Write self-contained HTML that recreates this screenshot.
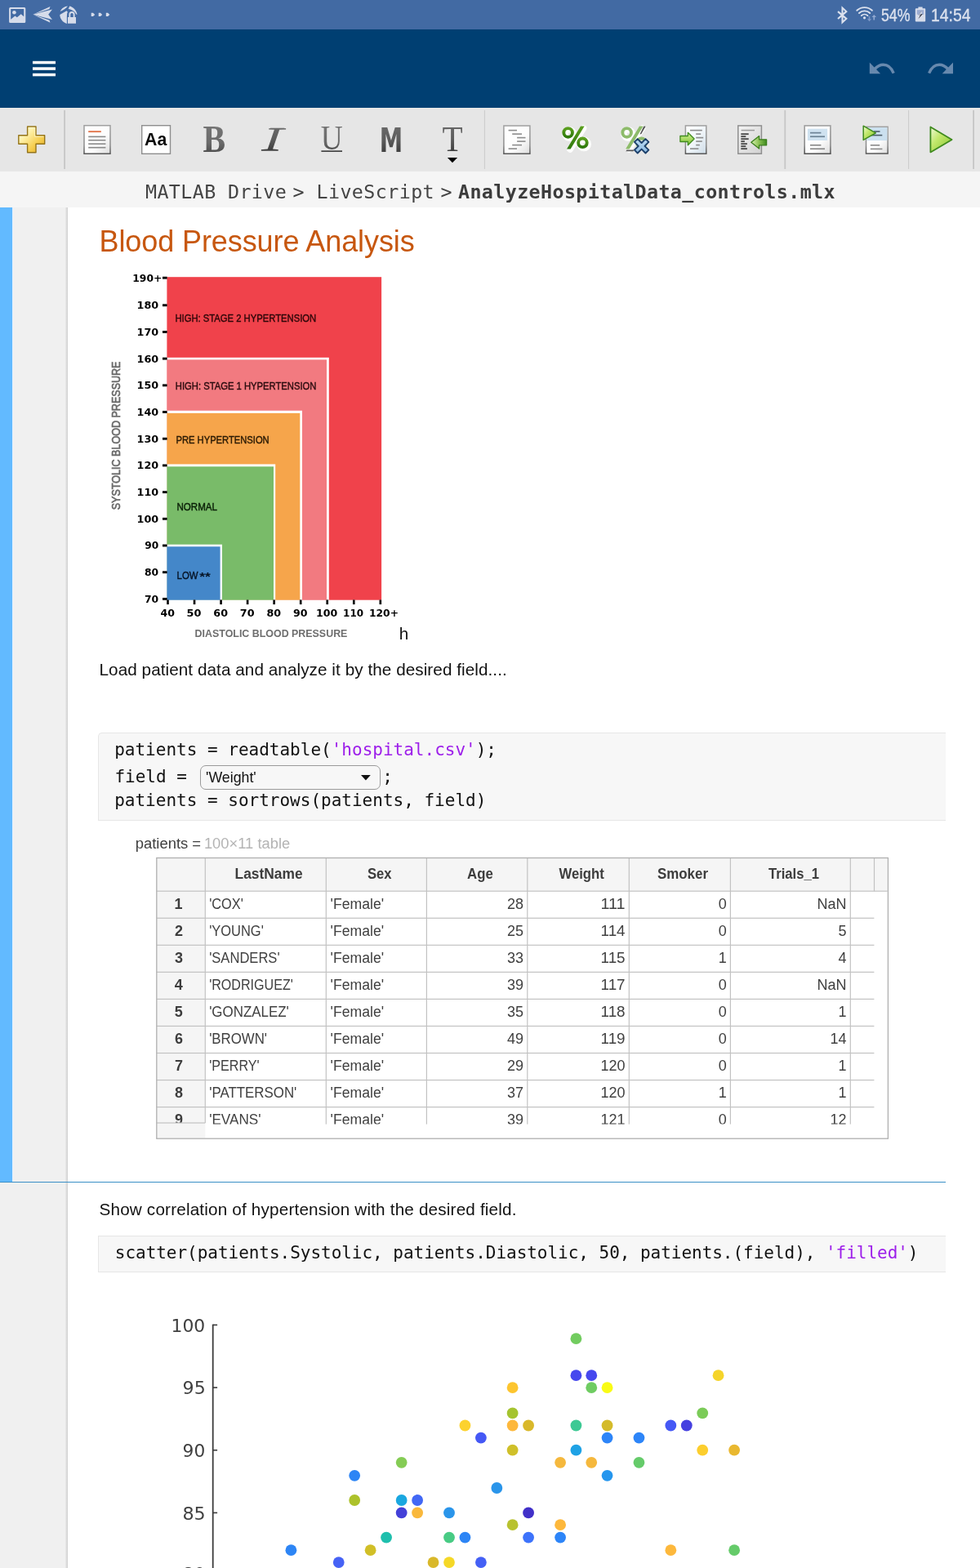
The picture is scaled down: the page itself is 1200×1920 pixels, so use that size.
<!DOCTYPE html>
<html lang="en">
<head>
<meta charset="utf-8">
<title>AnalyzeHospitalData_controls.mlx</title>
<style>
*{box-sizing:border-box;margin:0;padding:0}
html,body{width:1200px;height:1920px;overflow:hidden;background:#fff}
body{font-family:"Liberation Sans",sans-serif;color:#000}
#root{position:relative;width:1200px;height:1920px;overflow:hidden;background:#fff}
.abs{position:absolute}
.t{position:absolute;white-space:pre;line-height:1}
.mono{font-family:"DejaVu Sans Mono","Liberation Mono",monospace}
svg{position:absolute;overflow:visible}
/* bars */
#status{position:absolute;left:0;top:0;width:1200px;height:36px;background:#426aa3}
#appbar{position:absolute;left:0;top:36px;width:1200px;height:96px;background:#003f72}
#toolbar{position:absolute;left:0;top:132px;width:1200px;height:78px;background:#e6e6e6}
#crumb{position:absolute;left:0;top:210px;width:1200px;height:44px;background:#f5f5f5}
#gutter{position:absolute;left:0;top:254px;width:83px;height:1666px;background:linear-gradient(to right,#f0f0f0 0,#f0f0f0 79.500px,#d2d2d2 82.600px,#e4e4e4 83px)}
#strip{position:absolute;left:0;top:254px;width:16px;height:1193px;background:#62baff;border-right:1px solid #e2f1ff}
#secline{position:absolute;left:0;top:1446.5px;width:1158px;height:1.6px;background:#3a8fc6}
#title{left:121.500px;top:277.500px;font-size:36px;letter-spacing:-.09px;color:#c7570f}
.para{font-size:20.700px;color:#111}
.codeblk{position:absolute;left:120px;width:1038px;background:#f7f7f7;border:1px solid #e6e6e6;border-right:none;border-radius:5px 0 0 0}
.code{font-family:"DejaVu Sans Mono","Liberation Mono",monospace;font-size:21px;color:#111;position:absolute;white-space:pre;line-height:1}
.str{color:#9d1fea}

</style>
</head>
<body>
<div id="root">
<div id="status">
<svg width="1200" height="36" viewBox="0 0 1200 36" style="left:0;top:0">
 <g fill="#d6dcea" stroke="none">
  <!-- picture icon -->
  <path fill-rule="evenodd" d="M12.6 9h17.2a1.5 1.5 0 0 1 1.5 1.5v16a1.5 1.5 0 0 1-1.5 1.5H12.6a1.5 1.5 0 0 1-1.5-1.5v-16A1.5 1.5 0 0 1 12.6 9zM13.2 11.1v12.6l5.2-4.3 2.5 1.9 4.8-4.1 3.5 3.1v-9.2z"/>
  <circle cx="17.4" cy="15.3" r="2.3"/>
  <!-- paper plane -->
  <path d="M40.4 17.8L61.5 7.9 60.4 10.9z"/>
  <path d="M40.4 17.8L64 11.6 59.2 17.8 64 24 z"/>
  <path d="M40.4 17.8L61.5 27.7 60.4 24.7z"/>
  <!-- globe + lock -->
  <path d="M83 7.400c-4 .2-7.600 2.700-9.300 6.500c3.900-1.700 7-3.700 9.300-6.500z"/>
  <path d="M85.2 7.400c-.5 1.600-1 2.700-1.700 3.600c2.400.3 5.200 1.300 7.200 3.100c1.200 1.100 2 2.300 2.600 3.500l1.200.1c-.8-5-4.400-9-9.300-10.300z"/>
  <path d="M73.300 18.100c.1 5.200 3.600 9.500 8.600 10.800V19.800c0-2 .3-3.800.9-5.200l-1.200-1.300z"/>
  <path fill-rule="evenodd" d="M83 21h1.400v-3.300a3.600 3.600 0 0 1 7.200 0V21H93v7.800H83zM86.300 21h3.400v-3.300a1.700 1.700 0 0 0-3.400 0z"/>
  <!-- dots -->
  <path d="M111.700 15.800h2.300l2.200 2.150-2.200 2.150h-2.300z"/>
  <path d="M120.700 15.800h2.300l2.200 2.150-2.200 2.150h-2.300z"/>
  <path d="M129.800 15.800h2.300l2.200 2.150-2.200 2.150h-2.300z"/>
 </g>
 <!-- bluetooth -->
 <path d="M1026 14.100L1036.300 22.900 1031.500 27.300V9.600L1036.300 14.100 1026 23" fill="none" stroke="#dbe1ee" stroke-width="2.100" stroke-linejoin="miter"/>
 <!-- wifi -->
 <g fill="none" stroke="#dbe1ee" stroke-width="1.900" stroke-linecap="round">
  <path d="M1049.300 12.800a13.500 13.500 0 0 1 18.600 0"/>
  <path d="M1052 16a9.600 9.600 0 0 1 13.200 0"/>
  <path d="M1054.800 19.100a5.600 5.600 0 0 1 7.600 0"/>
 </g>
 <circle cx="1058.500" cy="21.800" r="1.600" fill="#dbe1ee"/>
 <path d="M1063.700 20h1.600v3.200h1.800l-2.600 3-2.600-3h1.800z" fill="#7d98c6"/>
 <path d="M1069.400 24.400h1.700v-3.400h1.900l-2.750-3.100-2.750 3.100h1.900z" fill="#90a8d0"/>
 <!-- battery -->
 <path d="M1124.400 8.500h5.200v1.800h2.600a1 1 0 0 1 1 1v14.200a1 1 0 0 1-1 1h-10.400a1 1 0 0 1-1-1V11.300a1 1 0 0 1 1-1h2.600z" fill="#d6dcea"/>
 <rect x="1122.800" y="12.200" width="8.400" height="5.600" fill="#9bacd1"/>
 <path d="M1128.600 13.200l-3.900 5.400h2.300l-2.600 4.600 5.400-6.200h-2.400z" fill="#1a1f2b"/>
 <path d="M1128.600 13.200l-3.900 5.400h2.300l.7-1.300h1.400z" fill="#c9d2e6"/>
</svg>
<span class="t" style="left:1079.300px;top:7.800px;font-size:22.200px;color:#dbe1ee;-webkit-text-stroke:.35px #dbe1ee;transform-origin:0 0;transform:scaleX(.8)">54%</span>
<span class="t" style="left:1140px;top:7.800px;font-size:22.200px;color:#dbe1ee;-webkit-text-stroke:.35px #dbe1ee;transform-origin:0 0;transform:scaleX(.873)">14:54</span>
</div>
<div id="appbar">
<svg width="1200" height="96" viewBox="0 36 1200 96" style="left:0;top:0">
 <rect x="40" y="74.800" width="28" height="3.500" fill="#fff"/>
 <rect x="40" y="82.300" width="28" height="3.500" fill="#fff"/>
 <rect x="40" y="89.800" width="28" height="3.500" fill="#fff"/>
 <g fill="#6789ae">
  <path d="M1064.800 76.500v13.700h13.300z"/>
  <path d="M1136 90.200h13.300l13.700 0-13.700 0zM1167 76.500v13.700h-13.300z"/>
 </g>
 <g fill="none" stroke="#6789ae" stroke-width="3.400">
  <path d="M1071 84.500Q1076 79.300 1081.500 79.300Q1090 79.300 1094.200 89.700"/>
  <path d="M1160.800 84.500Q1155.800 79.300 1150.300 79.300Q1141.800 79.300 1137.600 89.700"/>
 </g>
</svg>
</div>
<div id="toolbar">
<svg width="1200" height="78" viewBox="0 132 1200 78" style="left:0;top:0">
 <defs>
  <linearGradient id="gPlus" x1="0" y1="0" x2="1" y2="1">
   <stop offset="0" stop-color="#fffff2"/><stop offset=".3" stop-color="#fff3ae"/><stop offset=".65" stop-color="#f6cf52"/><stop offset="1" stop-color="#dfa51f"/>
  </linearGradient>
  <linearGradient id="gDoc" x1="0" y1="0" x2="1" y2="1">
   <stop offset="0" stop-color="#ffffff"/><stop offset=".6" stop-color="#fdfdfd"/><stop offset="1" stop-color="#dcdcdc"/>
  </linearGradient>
  <linearGradient id="gDocB" x1="0" y1="0" x2="1" y2="1">
   <stop offset="0" stop-color="#ffffff"/><stop offset=".5" stop-color="#f1f6fa"/><stop offset="1" stop-color="#cddbe6"/>
  </linearGradient>
  <linearGradient id="gDocG" x1="0" y1="0" x2="1" y2="1">
   <stop offset="0" stop-color="#f4f4f4"/><stop offset="1" stop-color="#d2d2d2"/>
  </linearGradient>
  <linearGradient id="gBorder" x1="0" y1="0" x2="0" y2="1">
   <stop offset="0" stop-color="#a0a0a0"/><stop offset=".7" stop-color="#8c8c8c"/><stop offset="1" stop-color="#565656"/>
  </linearGradient>
  <linearGradient id="gTxt" x1="0" y1="0" x2="0" y2="1">
   <stop offset="0" stop-color="#6e6e6e"/><stop offset=".5" stop-color="#5c5c5c"/><stop offset="1" stop-color="#2c2c2c"/>
  </linearGradient>
  <linearGradient id="gTxtL" x1="0" y1="0" x2="0" y2="1">
   <stop offset="0" stop-color="#7a7a7a"/><stop offset=".6" stop-color="#6a6a6a"/><stop offset="1" stop-color="#3a3a3a"/>
  </linearGradient>
  <linearGradient id="gRun" x1="0" y1="0" x2="1" y2="1">
   <stop offset="0" stop-color="#f0fbd8"/><stop offset=".4" stop-color="#c2e86c"/><stop offset="1" stop-color="#86c22e"/>
  </linearGradient>
  <linearGradient id="gArr" x1="0" y1="0" x2="0" y2="1">
   <stop offset="0" stop-color="#d8f59a"/><stop offset="1" stop-color="#7cc030"/>
  </linearGradient>
  <linearGradient id="gArrD" x1="0" y1="0" x2="1" y2="0">
   <stop offset="0" stop-color="#d9f2b4"/><stop offset=".5" stop-color="#8cc255"/><stop offset="1" stop-color="#3f8a1e"/>
  </linearGradient>
  <linearGradient id="gPct" x1="0" y1="0" x2="0" y2="1">
   <stop offset="0" stop-color="#5a9e1e"/><stop offset="1" stop-color="#2f7a0c"/>
  </linearGradient>
  <linearGradient id="gX" x1="0" y1="0" x2="1" y2="1">
   <stop offset="0" stop-color="#c9e3f7"/><stop offset="1" stop-color="#7fb2dd"/>
  </linearGradient>
 </defs>
 <!-- separators -->
 <g fill="#c6c6c6">
  <rect x="78.200" y="135" width="1.800" height="72"/>
  <rect x="592.900" y="135" width="1.100" height="72" fill="#cdcdcd"/>
  <rect x="960.400" y="135" width="1.800" height="72"/>
  <rect x="1112" y="135" width="1.100" height="72" fill="#cdcdcd"/>
  <rect x="1191.200" y="135" width="1.800" height="72"/>
 </g>
 <!-- 1 plus -->
 <path d="M33.600 155h10.400v10.800h10.700v10.400H44v10.600H33.600v-10.600H22.800v-10.400h10.800z" fill="url(#gPlus)" stroke="#94741a" stroke-width="1.400" stroke-linejoin="round"/>
 <path d="M34.900 156.400h7.800v10.800h10.700" fill="none" stroke="#fff8d0" stroke-width="1" opacity=".8"/>
 <!-- 2 text doc -->
 <rect x="103" y="153.700" width="32" height="34.500" fill="url(#gDoc)" stroke="url(#gBorder)" stroke-width="1.500"/>
 <rect x="108.200" y="160.200" width="15.600" height="1.900" fill="#e2764c"/>
 <g fill="#8a8a8a">
  <rect x="108.200" y="166.600" width="21.200" height="1.600"/>
  <rect x="108.200" y="170.900" width="21.200" height="1.600"/>
  <rect x="108.200" y="175.400" width="21.200" height="1.600"/>
  <rect x="108.200" y="179.900" width="21.200" height="1.600"/>
 </g>
 <!-- 3 Aa -->
 <rect x="173.700" y="153.700" width="34.800" height="34.600" fill="#fff" stroke="#8e8e8e" stroke-width="1.400"/>
 <text x="190.700" y="178.300" text-anchor="middle" font-family="Liberation Sans, sans-serif" font-weight="bold" font-size="22.500" fill="#0a0a0a" textLength="27.200" lengthAdjust="spacingAndGlyphs">Aa</text>
 <!-- 4 B -->
 <text x="262.300" y="185.500" text-anchor="middle" font-family="Liberation Serif, serif" font-weight="bold" font-size="45.800" fill="url(#gTxtL)" textLength="27.600" lengthAdjust="spacingAndGlyphs">B</text>
 <!-- 5 I -->
 <g transform="translate(330.400 184.300) skewX(-19) scale(1.600 1)">
  <text x="0" y="0" text-anchor="middle" font-family="Liberation Serif, serif" font-size="41.500" fill="url(#gTxt)">I</text>
 </g>
 <rect x="329.300" y="157.100" width="20.800" height="1.500" fill="#6c6c6c"/>
 <rect x="319.900" y="183.100" width="20.800" height="1.600" fill="#3c3c3c"/>
 <!-- 6 U -->
 <text x="406.200" y="182.900" text-anchor="middle" font-family="Liberation Serif, serif" font-size="42" fill="url(#gTxtL)" textLength="27" lengthAdjust="spacingAndGlyphs">U</text>
 <rect x="393.400" y="184.300" width="25.600" height="1.700" fill="#444"/>
 <!-- 7 M -->
 <text x="479" y="185.700" text-anchor="middle" font-family="DejaVu Sans, Liberation Sans, sans-serif" font-weight="bold" font-size="40.600" fill="url(#gTxt)" textLength="28.400" lengthAdjust="spacingAndGlyphs">M</text>
 <!-- 8 T -->
 <text x="554" y="185" text-anchor="middle" font-family="Liberation Serif, serif" font-size="44.400" fill="url(#gTxt)" textLength="25.200" lengthAdjust="spacingAndGlyphs">T</text>
 <path d="M547.900 193h12.200l-6.100 6.200z" fill="#000"/>
 <!-- 9 staggered doc -->
 <rect x="616.900" y="154" width="32" height="34.200" fill="url(#gDoc)" stroke="url(#gBorder)" stroke-width="1.500"/>
 <g fill="#8c8c8c">
  <rect x="622.600" y="158.800" width="10.400" height="1.600"/>
  <rect x="627.200" y="163.300" width="11.800" height="1.600"/>
  <rect x="633.100" y="167.800" width="10.400" height="1.600"/>
  <rect x="633.100" y="172.300" width="10.400" height="1.600"/>
  <rect x="627.200" y="176.800" width="11.800" height="1.600"/>
  <rect x="622.600" y="181.300" width="10.400" height="1.600"/>
 </g>
 <!-- 10 percent -->
 <g id="pct">
  <g transform="translate(1.600 1.600)" fill="none" stroke="#fff" stroke-width="7.500" stroke-linecap="round" opacity=".95">
   <circle cx="695.600" cy="162.400" r="5.200"/><circle cx="713.400" cy="174.800" r="5.200"/><path d="M713 155.300L696.500 181.500"/>
  </g>
  <g fill="none" stroke="url(#gPct)" stroke-width="3.900">
   <circle cx="695.600" cy="162.400" r="5.300"/><circle cx="713.400" cy="174.800" r="5.300"/>
  </g>
  <path d="M711 154.500h4.600L698.600 182.500h-4.600z" fill="url(#gPct)"/>
 </g>
 <!-- 11 percent with x -->
 <g>
  <g transform="translate(1.600 1.600)" fill="none" stroke="#fff" stroke-width="7.500" stroke-linecap="round" opacity=".95">
   <circle cx="767.600" cy="162.400" r="5.200"/><path d="M785 155.300L768.500 181.500"/>
  </g>
  <circle cx="767.600" cy="162.400" r="5.300" fill="none" stroke="#8dbb6a" stroke-width="3.900"/>
  <circle cx="785.400" cy="174.800" r="5.300" fill="none" stroke="#8dbb6a" stroke-width="3.900"/>
  <path d="M783 154.500h4.600L770.600 182.500h-4.600z" fill="#8dbb6a"/>
  <path d="M788.300 154.600l2.300.2-5.300 9.300-1.900.3z" fill="#555"/>
  <path d="M766.300 185.200h9l1.400-1.600-9.400-.1z" fill="#555"/>
  <g transform="translate(785.600 178.800) rotate(45)">
   <path d="M-2.700-9.600h5.400v6.900h6.900v5.400h-6.900v6.900h-5.400v-6.900h-6.900v-5.400h6.900z" fill="url(#gX)" stroke="#1c3f6a" stroke-width="1.900" stroke-linejoin="round"/>
  </g>
 </g>
 <!-- 12 doc with right arrow -->
 <rect x="839.400" y="153.900" width="25.400" height="34.300" fill="url(#gDocB)" stroke="url(#gBorder)" stroke-width="1.500"/>
 <g fill="#8c8c8c">
  <rect x="845" y="158.800" width="14.800" height="1.600"/>
  <rect x="852.200" y="163.300" width="6" height="1.600"/>
  <rect x="852.200" y="167.800" width="9" height="1.600"/>
  <rect x="852.200" y="172.300" width="7.600" height="1.600"/>
  <rect x="852.200" y="176.800" width="4.600" height="1.600"/>
  <rect x="845" y="181.300" width="10.400" height="1.600"/>
 </g>
 <path d="M832.900 166.500h9.400v-4.200l7.800 7.700-7.800 7.700v-4.200h-9.400z" fill="url(#gArr)" stroke="#3f8a1e" stroke-width="1.300" stroke-linejoin="round"/>
 <!-- 13 doc with left arrow -->
 <rect x="903.800" y="153.900" width="28.600" height="34.300" fill="url(#gDocG)" stroke="#8f8f8f" stroke-width="1.500"/>
 <rect x="907.600" y="158.800" width="16.400" height="1.500" fill="#9a9a9a"/>
 <g fill="#4c4c4c">
  <rect x="907.300" y="163.200" width="9.400" height="1.900"/>
  <rect x="907.300" y="166.200" width="6" height="1.900"/>
  <rect x="907.300" y="169.200" width="9.400" height="1.900"/>
  <rect x="907.300" y="172.200" width="4.600" height="1.900"/>
  <rect x="907.300" y="175.200" width="7.600" height="1.900"/>
  <rect x="907.300" y="178.200" width="6" height="1.900"/>
  <rect x="907.300" y="181.200" width="7.600" height="1.900"/>
 </g>
 <path d="M938.600 170.800h-9v-4.200l-9.800 7.700 9.800 7.700v-4.200h9z" fill="url(#gArrD)" stroke="#3a7e1c" stroke-width="1.300" stroke-linejoin="round"/>
 <!-- 14 section doc -->
 <rect x="985.200" y="153.900" width="31.700" height="34.300" fill="url(#gDoc)" stroke="url(#gBorder)" stroke-width="1.600"/>
 <rect x="988.900" y="157.700" width="24.200" height="14.300" fill="#cfe2f0"/>
 <rect x="992" y="161.800" width="13.400" height="1.700" fill="#6e8496"/>
 <rect x="992" y="166.400" width="18" height="1.700" fill="#6e8496"/>
 <rect x="992" y="176.900" width="13.400" height="1.700" fill="#8a8a8a"/>
 <rect x="992" y="181.400" width="18" height="1.700" fill="#8a8a8a"/>
 <!-- 15 run section -->
 <rect x="1060.500" y="155.300" width="26.600" height="32.700" fill="url(#gDoc)" stroke="url(#gBorder)" stroke-width="1.500"/>
 <rect x="1061.300" y="156.100" width="25" height="16" fill="#cbe0ef"/>
 <rect x="1070" y="160.200" width="7.500" height="1.600" fill="#4c5c68"/>
 <rect x="1066" y="164.800" width="14.300" height="1.600" fill="#4c5c68"/>
 <rect x="1065.800" y="177" width="11.400" height="1.600" fill="#8a8a8a"/>
 <rect x="1065.800" y="181.600" width="14.600" height="1.600" fill="#8a8a8a"/>
 <path d="M1057.200 154.200L1072.300 162.800 1057.200 171.400z" fill="url(#gRun)" stroke="#3f8a1e" stroke-width="1.500" stroke-linejoin="round"/>
 <!-- 16 run -->
 <path d="M1139.400 155.400L1165.600 170.900 1139.400 186.400z" fill="url(#gRun)" stroke="#3f8a1e" stroke-width="1.800" stroke-linejoin="round"/>
</svg>
</div>
<div id="crumb">
<span class="t mono" style="left:178px;top:13.300px;font-size:23.300px;letter-spacing:.4px;color:#444">MATLAB Drive</span>
<span class="t mono" style="left:358.400px;top:13.300px;font-size:23.300px;color:#444">&gt;</span>
<span class="t mono" style="left:387.500px;top:13.300px;font-size:23.300px;letter-spacing:.43px;color:#444">LiveScript</span>
<span class="t mono" style="left:539.500px;top:13.300px;font-size:23.300px;color:#444">&gt;</span>
<span class="t mono" style="left:561px;top:13.300px;font-size:23.300px;letter-spacing:.41px;font-weight:bold;color:#3c3c3c">AnalyzeHospitalData_controls.mlx</span>
</div>
<div id="gutter"></div>
<div id="strip"></div>
<div id="secline"></div>
<span class="t" id="title">Blood Pressure Analysis</span>
<span class="t para" style="left:488.800px;top:766.200px;font-size:20.700px">h</span>
<span class="t para" style="left:121.500px;top:809.500px;letter-spacing:.063px">Load patient data and analyze it by the desired field....</span>
<svg id="bpchart" width="400" height="470" viewBox="120 330 400 470" style="left:120px;top:330px">
<rect x="204.4" y="339.200" width="262.7" height="395.5" fill="#f0424b"/>
<rect x="204.4" y="437.8" width="198.4" height="296.9" fill="#fff"/>
<rect x="204.4" y="440.4" width="195.6" height="294.3" fill="#f27a80"/>
<rect x="204.4" y="502.8" width="165.6" height="231.9" fill="#fff"/>
<rect x="204.4" y="505.9" width="162.9" height="228.8" fill="#f6a54b"/>
<rect x="204.4" y="568.4" width="132.8" height="166.3" fill="#fff"/>
<rect x="204.4" y="571.3" width="130.6" height="163.4" fill="#79bb69"/>
<rect x="204.4" y="666.7" width="67.6" height="68.0" fill="#fff"/>
<rect x="204.4" y="669.3" width="65.2" height="65.4" fill="#4487c9"/>
<rect x="199" y="731.95" width="5.600" height="2.900" fill="#000"/>
<rect x="199" y="699.25" width="5.600" height="2.900" fill="#000"/>
<rect x="199" y="666.56" width="5.600" height="2.900" fill="#000"/>
<rect x="199" y="633.86" width="5.600" height="2.900" fill="#000"/>
<rect x="199" y="601.17" width="5.600" height="2.900" fill="#000"/>
<rect x="199" y="568.47" width="5.600" height="2.900" fill="#000"/>
<rect x="199" y="535.78" width="5.600" height="2.900" fill="#000"/>
<rect x="199" y="503.08" width="5.600" height="2.900" fill="#000"/>
<rect x="199" y="470.39" width="5.600" height="2.900" fill="#000"/>
<rect x="199" y="437.69" width="5.600" height="2.900" fill="#000"/>
<rect x="199" y="405.00" width="5.600" height="2.900" fill="#000"/>
<rect x="199" y="372.31" width="5.600" height="2.900" fill="#000"/>
<rect x="199" y="338.75" width="5.600" height="2.900" fill="#000"/>
<rect x="204.20" y="734.500" width="2.600" height="5.600" fill="#000"/>
<rect x="236.74" y="734.500" width="2.600" height="5.600" fill="#000"/>
<rect x="269.28" y="734.500" width="2.600" height="5.600" fill="#000"/>
<rect x="301.81" y="734.500" width="2.600" height="5.600" fill="#000"/>
<rect x="334.35" y="734.500" width="2.600" height="5.600" fill="#000"/>
<rect x="366.89" y="734.500" width="2.600" height="5.600" fill="#000"/>
<rect x="399.43" y="734.500" width="2.600" height="5.600" fill="#000"/>
<rect x="431.97" y="734.500" width="2.600" height="5.600" fill="#000"/>
<rect x="464.50" y="734.500" width="2.600" height="5.600" fill="#000"/>
<text x="176.97" y="737.80" font-family="DejaVu Sans, Liberation Sans, sans-serif" font-weight="bold" font-size="11.900" fill="#000" textLength="17.22" lengthAdjust="spacingAndGlyphs">70</text>
<text x="177.05" y="705.10" font-family="DejaVu Sans, Liberation Sans, sans-serif" font-weight="bold" font-size="11.900" fill="#000" textLength="17.14" lengthAdjust="spacingAndGlyphs">80</text>
<text x="177.17" y="672.41" font-family="DejaVu Sans, Liberation Sans, sans-serif" font-weight="bold" font-size="11.900" fill="#000" textLength="17.02" lengthAdjust="spacingAndGlyphs">90</text>
<text x="167.56" y="639.71" font-family="DejaVu Sans, Liberation Sans, sans-serif" font-weight="bold" font-size="11.900" fill="#000" textLength="26.65" lengthAdjust="spacingAndGlyphs">100</text>
<text x="167.56" y="607.02" font-family="DejaVu Sans, Liberation Sans, sans-serif" font-weight="bold" font-size="11.900" fill="#000" textLength="26.65" lengthAdjust="spacingAndGlyphs">110</text>
<text x="167.56" y="574.32" font-family="DejaVu Sans, Liberation Sans, sans-serif" font-weight="bold" font-size="11.900" fill="#000" textLength="26.65" lengthAdjust="spacingAndGlyphs">120</text>
<text x="167.56" y="541.63" font-family="DejaVu Sans, Liberation Sans, sans-serif" font-weight="bold" font-size="11.900" fill="#000" textLength="26.65" lengthAdjust="spacingAndGlyphs">130</text>
<text x="167.56" y="508.93" font-family="DejaVu Sans, Liberation Sans, sans-serif" font-weight="bold" font-size="11.900" fill="#000" textLength="26.65" lengthAdjust="spacingAndGlyphs">140</text>
<text x="167.56" y="476.24" font-family="DejaVu Sans, Liberation Sans, sans-serif" font-weight="bold" font-size="11.900" fill="#000" textLength="26.65" lengthAdjust="spacingAndGlyphs">150</text>
<text x="167.56" y="443.54" font-family="DejaVu Sans, Liberation Sans, sans-serif" font-weight="bold" font-size="11.900" fill="#000" textLength="26.65" lengthAdjust="spacingAndGlyphs">160</text>
<text x="167.56" y="410.85" font-family="DejaVu Sans, Liberation Sans, sans-serif" font-weight="bold" font-size="11.900" fill="#000" textLength="26.65" lengthAdjust="spacingAndGlyphs">170</text>
<text x="167.56" y="378.15" font-family="DejaVu Sans, Liberation Sans, sans-serif" font-weight="bold" font-size="11.900" fill="#000" textLength="26.65" lengthAdjust="spacingAndGlyphs">180</text>
<text x="162.31" y="344.50" font-family="DejaVu Sans, Liberation Sans, sans-serif" font-weight="bold" font-size="11.900" fill="#000" textLength="35.99" lengthAdjust="spacingAndGlyphs">190+</text>
<text x="196.49" y="754.70" font-family="DejaVu Sans, Liberation Sans, sans-serif" font-weight="bold" font-size="11.900" fill="#000" textLength="17.46" lengthAdjust="spacingAndGlyphs">40</text>
<text x="228.60" y="754.70" font-family="DejaVu Sans, Liberation Sans, sans-serif" font-weight="bold" font-size="11.900" fill="#000" textLength="17.91" lengthAdjust="spacingAndGlyphs">50</text>
<text x="261.34" y="754.70" font-family="DejaVu Sans, Liberation Sans, sans-serif" font-weight="bold" font-size="11.900" fill="#000" textLength="17.70" lengthAdjust="spacingAndGlyphs">60</text>
<text x="293.81" y="754.70" font-family="DejaVu Sans, Liberation Sans, sans-serif" font-weight="bold" font-size="11.900" fill="#000" textLength="17.76" lengthAdjust="spacingAndGlyphs">70</text>
<text x="326.43" y="754.70" font-family="DejaVu Sans, Liberation Sans, sans-serif" font-weight="bold" font-size="11.900" fill="#000" textLength="17.68" lengthAdjust="spacingAndGlyphs">80</text>
<text x="359.09" y="754.70" font-family="DejaVu Sans, Liberation Sans, sans-serif" font-weight="bold" font-size="11.900" fill="#000" textLength="17.56" lengthAdjust="spacingAndGlyphs">90</text>
<text x="386.91" y="754.70" font-family="DejaVu Sans, Liberation Sans, sans-serif" font-weight="bold" font-size="11.900" fill="#000" textLength="26.22" lengthAdjust="spacingAndGlyphs">100</text>
<text x="420.12" y="754.70" font-family="DejaVu Sans, Liberation Sans, sans-serif" font-weight="bold" font-size="11.900" fill="#000" textLength="24.92" lengthAdjust="spacingAndGlyphs">110</text>
<text x="451.91" y="754.70" font-family="DejaVu Sans, Liberation Sans, sans-serif" font-weight="bold" font-size="11.900" fill="#000" textLength="36.10" lengthAdjust="spacingAndGlyphs">120+</text>
<text x="214.4" y="394.1" font-family="Liberation Sans, sans-serif" font-size="12.400" stroke-width=".42" fill="#2e0709" stroke="#2e0709" textLength="172.8" lengthAdjust="spacingAndGlyphs">HIGH: STAGE 2 HYPERTENSION</text>
<text x="214.8" y="477.1" font-family="Liberation Sans, sans-serif" font-size="12.400" stroke-width=".42" fill="#2b0c0f" stroke="#2b0c0f" textLength="172.6" lengthAdjust="spacingAndGlyphs">HIGH: STAGE 1 HYPERTENSION</text>
<text x="215.5" y="543.2" font-family="Liberation Sans, sans-serif" font-size="12.400" stroke-width=".42" fill="#2a1a04" stroke="#2a1a04" textLength="114.2" lengthAdjust="spacingAndGlyphs">PRE HYPERTENSION</text>
<text x="216.5" y="624.6" font-family="Liberation Sans, sans-serif" font-size="12.400" stroke-width=".42" fill="#0a1f07" stroke="#0a1f07" textLength="49.4" lengthAdjust="spacingAndGlyphs">NORMAL</text>
<text font-family="Liberation Sans, sans-serif" font-size="12.400" stroke-width=".42" fill="#061426"><tspan x="216.57" y="708.900" stroke="#061426" textLength="25.87" lengthAdjust="spacingAndGlyphs">LOW</tspan><tspan x="244.200" y="710.600" font-weight="bold" font-size="15.500" textLength="13.600" lengthAdjust="spacingAndGlyphs">**</tspan></text>
<text x="238.600" y="779.700" font-family="Liberation Sans, sans-serif" font-weight="bold" font-size="12.600" fill="#6e6e6e" textLength="186.800" lengthAdjust="spacingAndGlyphs">DIASTOLIC BLOOD PRESSURE</text>
<text transform="translate(147.300 624.300) rotate(-90)" x="0" y="0" font-family="Liberation Sans, sans-serif" font-size="15.300" fill="#6a6a6a" stroke="#6a6a6a" stroke-width=".7" textLength="181.800" lengthAdjust="spacingAndGlyphs">SYSTOLIC BLOOD PRESSURE</text>
</svg>
<div class="codeblk" style="top:897px;height:108px"></div>
<span class="code" style="left:140.200px;top:907.500px">patients = readtable(<span class="str">'hospital.csv'</span>);</span>
<span class="code" style="left:140.400px;top:940.800px">field = </span>
<div class="abs" style="left:245px;top:937.300px;width:220.600px;height:29.500px;border:1.300px solid #9a9a9a;border-radius:7px;background:#f7f7f7"></div>
<span class="t" style="left:252.300px;top:941.800px;font-size:19px;color:#111;transform-origin:0 0;transform:scaleX(.935)">'Weight'</span>
<svg width="14" height="8" viewBox="0 0 14 8" style="left:442.200px;top:948.500px"><path d="M0 0h11.800l-5.900 6.500z" fill="#111"/></svg>
<span class="code" style="left:468.300px;top:940.800px">;</span>
<span class="code" style="left:140.200px;top:970.200px">patients = sortrows(patients, field)</span>
<svg id="tbl" width="1000" height="400" viewBox="150 1010 1000 400" style="left:150px;top:1010px">
<text x="165.81" y="1038.80" font-family="Liberation Sans, sans-serif" font-size="18" fill="#404040" textLength="80.29" lengthAdjust="spacingAndGlyphs">patients =</text>
<text x="249.92" y="1038.80" font-family="Liberation Sans, sans-serif" font-size="18" fill="#b4b4b4" textLength="105.29" lengthAdjust="spacingAndGlyphs">100×11 table</text>
<rect x="191.8" y="1050.5" width="895.6" height="343.7" fill="#fff"/>
<rect x="191.8" y="1050.5" width="894.8" height="40.7" fill="#f5f5f5"/>
<rect x="191.8" y="1050.5" width="59.5" height="343.1" fill="#f5f5f5"/>
<rect x="191.80" y="1090.60" width="894.80" height="1.2" fill="#c2c2c2"/>
<rect x="191.80" y="1123.65" width="878.60" height="1.2" fill="#c2c2c2"/>
<rect x="191.80" y="1156.70" width="878.60" height="1.2" fill="#c2c2c2"/>
<rect x="191.80" y="1189.75" width="878.60" height="1.2" fill="#c2c2c2"/>
<rect x="191.80" y="1222.80" width="878.60" height="1.2" fill="#c2c2c2"/>
<rect x="191.80" y="1255.85" width="878.60" height="1.2" fill="#c2c2c2"/>
<rect x="191.80" y="1288.90" width="878.60" height="1.2" fill="#c2c2c2"/>
<rect x="191.80" y="1321.95" width="878.60" height="1.2" fill="#c2c2c2"/>
<rect x="191.80" y="1355.00" width="878.60" height="1.2" fill="#c2c2c2"/>
<rect x="191.80" y="1374.40" width="59.50" height="1.2" fill="#c2c2c2"/>
<rect x="250.70" y="1050.50" width="1.2" height="324.50" fill="#c2c2c2"/>
<rect x="398.70" y="1050.50" width="1.2" height="326.10" fill="#c2c2c2"/>
<rect x="521.80" y="1050.50" width="1.2" height="326.10" fill="#c2c2c2"/>
<rect x="645.20" y="1050.50" width="1.2" height="326.10" fill="#c2c2c2"/>
<rect x="769.70" y="1050.50" width="1.2" height="326.10" fill="#c2c2c2"/>
<rect x="893.80" y="1050.50" width="1.2" height="326.10" fill="#c2c2c2"/>
<rect x="1040.70" y="1050.50" width="1.2" height="326.10" fill="#c2c2c2"/>
<rect x="1069.90" y="1050.50" width="1.2" height="40.70" fill="#c2c2c2"/>
<rect x="191.20" y="1049.85" width="896.80" height="1.3" fill="#b0b0b0"/>
<rect x="191.20" y="1393.55" width="896.80" height="1.3" fill="#b0b0b0"/>
<rect x="191.15" y="1050.50" width="1.3" height="343.70" fill="#b0b0b0"/>
<rect x="1086.75" y="1050.50" width="1.3" height="343.70" fill="#b0b0b0"/>
<text x="287.59" y="1076.00" font-family="Liberation Sans, sans-serif" font-size="18" font-weight="bold" fill="#3d3d3d" textLength="83.01" lengthAdjust="spacingAndGlyphs">LastName</text>
<text x="450.02" y="1076.00" font-family="Liberation Sans, sans-serif" font-size="18" font-weight="bold" fill="#3d3d3d" textLength="29.60" lengthAdjust="spacingAndGlyphs">Sex</text>
<text x="572.08" y="1076.00" font-family="Liberation Sans, sans-serif" font-size="18" font-weight="bold" fill="#3d3d3d" textLength="31.74" lengthAdjust="spacingAndGlyphs">Age</text>
<text x="684.48" y="1076.00" font-family="Liberation Sans, sans-serif" font-size="18" font-weight="bold" fill="#3d3d3d" textLength="55.22" lengthAdjust="spacingAndGlyphs">Weight</text>
<text x="805.01" y="1076.00" font-family="Liberation Sans, sans-serif" font-size="18" font-weight="bold" fill="#3d3d3d" textLength="61.99" lengthAdjust="spacingAndGlyphs">Smoker</text>
<text x="941.07" y="1076.00" font-family="Liberation Sans, sans-serif" font-size="18" font-weight="bold" fill="#3d3d3d" textLength="61.89" lengthAdjust="spacingAndGlyphs">Trials_1</text>
<clipPath id="tclip"><rect x="251.9" y="1091" width="840" height="285.4"/></clipPath>
<clipPath id="rclip"><rect x="191.8" y="1091" width="60" height="283.4"/></clipPath>
<g clip-path="url(#rclip)">
<text x="213.58" y="1112.80" font-family="Liberation Sans, sans-serif" font-size="18" font-weight="bold" fill="#3d3d3d" textLength="10.01" lengthAdjust="spacingAndGlyphs">1</text>
<text x="213.94" y="1145.85" font-family="Liberation Sans, sans-serif" font-size="18" font-weight="bold" fill="#3d3d3d" textLength="10.01" lengthAdjust="spacingAndGlyphs">2</text>
<text x="214.01" y="1178.90" font-family="Liberation Sans, sans-serif" font-size="18" font-weight="bold" fill="#3d3d3d" textLength="10.01" lengthAdjust="spacingAndGlyphs">3</text>
<text x="213.81" y="1211.95" font-family="Liberation Sans, sans-serif" font-size="18" font-weight="bold" fill="#3d3d3d" textLength="10.01" lengthAdjust="spacingAndGlyphs">4</text>
<text x="213.87" y="1245.00" font-family="Liberation Sans, sans-serif" font-size="18" font-weight="bold" fill="#3d3d3d" textLength="10.01" lengthAdjust="spacingAndGlyphs">5</text>
<text x="213.89" y="1278.05" font-family="Liberation Sans, sans-serif" font-size="18" font-weight="bold" fill="#3d3d3d" textLength="10.01" lengthAdjust="spacingAndGlyphs">6</text>
<text x="213.90" y="1311.10" font-family="Liberation Sans, sans-serif" font-size="18" font-weight="bold" fill="#3d3d3d" textLength="10.01" lengthAdjust="spacingAndGlyphs">7</text>
<text x="213.89" y="1344.15" font-family="Liberation Sans, sans-serif" font-size="18" font-weight="bold" fill="#3d3d3d" textLength="10.01" lengthAdjust="spacingAndGlyphs">8</text>
<text x="213.92" y="1377.20" font-family="Liberation Sans, sans-serif" font-size="18" font-weight="bold" fill="#3d3d3d" textLength="10.01" lengthAdjust="spacingAndGlyphs">9</text>
</g>
<g clip-path="url(#tclip)">
<text x="256.17" y="1112.80" font-family="Liberation Sans, sans-serif" font-size="18" fill="#404040" textLength="41.65" lengthAdjust="spacingAndGlyphs">'COX'</text>
<text x="404.61" y="1112.80" font-family="Liberation Sans, sans-serif" font-size="18" fill="#404040" textLength="65.48" lengthAdjust="spacingAndGlyphs">'Female'</text>
<text x="621.08" y="1112.80" font-family="Liberation Sans, sans-serif" font-size="18" fill="#404040" textLength="20.02" lengthAdjust="spacingAndGlyphs">28</text>
<text x="735.57" y="1112.80" font-family="Liberation Sans, sans-serif" font-size="18" fill="#404040" textLength="30.03" lengthAdjust="spacingAndGlyphs">111</text>
<text x="879.69" y="1112.80" font-family="Liberation Sans, sans-serif" font-size="18" fill="#404040" textLength="10.01" lengthAdjust="spacingAndGlyphs">0</text>
<text x="1000.59" y="1112.80" font-family="Liberation Sans, sans-serif" font-size="18" fill="#404040" textLength="36.01" lengthAdjust="spacingAndGlyphs">NaN</text>
<text x="256.16" y="1145.85" font-family="Liberation Sans, sans-serif" font-size="18" fill="#404040" textLength="66.66" lengthAdjust="spacingAndGlyphs">'YOUNG'</text>
<text x="404.61" y="1145.85" font-family="Liberation Sans, sans-serif" font-size="18" fill="#404040" textLength="65.48" lengthAdjust="spacingAndGlyphs">'Female'</text>
<text x="621.08" y="1145.85" font-family="Liberation Sans, sans-serif" font-size="18" fill="#404040" textLength="20.02" lengthAdjust="spacingAndGlyphs">25</text>
<text x="735.57" y="1145.85" font-family="Liberation Sans, sans-serif" font-size="18" fill="#404040" textLength="30.03" lengthAdjust="spacingAndGlyphs">114</text>
<text x="879.69" y="1145.85" font-family="Liberation Sans, sans-serif" font-size="18" fill="#404040" textLength="10.01" lengthAdjust="spacingAndGlyphs">0</text>
<text x="1026.59" y="1145.85" font-family="Liberation Sans, sans-serif" font-size="18" fill="#404040" textLength="10.01" lengthAdjust="spacingAndGlyphs">5</text>
<text x="256.16" y="1178.90" font-family="Liberation Sans, sans-serif" font-size="18" fill="#404040" textLength="86.42" lengthAdjust="spacingAndGlyphs">'SANDERS'</text>
<text x="404.61" y="1178.90" font-family="Liberation Sans, sans-serif" font-size="18" fill="#404040" textLength="65.48" lengthAdjust="spacingAndGlyphs">'Female'</text>
<text x="621.08" y="1178.90" font-family="Liberation Sans, sans-serif" font-size="18" fill="#404040" textLength="20.02" lengthAdjust="spacingAndGlyphs">33</text>
<text x="735.57" y="1178.90" font-family="Liberation Sans, sans-serif" font-size="18" fill="#404040" textLength="30.03" lengthAdjust="spacingAndGlyphs">115</text>
<text x="879.69" y="1178.90" font-family="Liberation Sans, sans-serif" font-size="18" fill="#404040" textLength="10.01" lengthAdjust="spacingAndGlyphs">1</text>
<text x="1026.59" y="1178.90" font-family="Liberation Sans, sans-serif" font-size="18" fill="#404040" textLength="10.01" lengthAdjust="spacingAndGlyphs">4</text>
<text x="256.18" y="1211.95" font-family="Liberation Sans, sans-serif" font-size="18" fill="#404040" textLength="102.63" lengthAdjust="spacingAndGlyphs">'RODRIGUEZ'</text>
<text x="404.61" y="1211.95" font-family="Liberation Sans, sans-serif" font-size="18" fill="#404040" textLength="65.48" lengthAdjust="spacingAndGlyphs">'Female'</text>
<text x="621.08" y="1211.95" font-family="Liberation Sans, sans-serif" font-size="18" fill="#404040" textLength="20.02" lengthAdjust="spacingAndGlyphs">39</text>
<text x="735.57" y="1211.95" font-family="Liberation Sans, sans-serif" font-size="18" fill="#404040" textLength="30.03" lengthAdjust="spacingAndGlyphs">117</text>
<text x="879.69" y="1211.95" font-family="Liberation Sans, sans-serif" font-size="18" fill="#404040" textLength="10.01" lengthAdjust="spacingAndGlyphs">0</text>
<text x="1000.59" y="1211.95" font-family="Liberation Sans, sans-serif" font-size="18" fill="#404040" textLength="36.01" lengthAdjust="spacingAndGlyphs">NaN</text>
<text x="256.14" y="1245.00" font-family="Liberation Sans, sans-serif" font-size="18" fill="#404040" textLength="97.71" lengthAdjust="spacingAndGlyphs">'GONZALEZ'</text>
<text x="404.61" y="1245.00" font-family="Liberation Sans, sans-serif" font-size="18" fill="#404040" textLength="65.48" lengthAdjust="spacingAndGlyphs">'Female'</text>
<text x="621.08" y="1245.00" font-family="Liberation Sans, sans-serif" font-size="18" fill="#404040" textLength="20.02" lengthAdjust="spacingAndGlyphs">35</text>
<text x="735.57" y="1245.00" font-family="Liberation Sans, sans-serif" font-size="18" fill="#404040" textLength="30.03" lengthAdjust="spacingAndGlyphs">118</text>
<text x="879.69" y="1245.00" font-family="Liberation Sans, sans-serif" font-size="18" fill="#404040" textLength="10.01" lengthAdjust="spacingAndGlyphs">0</text>
<text x="1026.59" y="1245.00" font-family="Liberation Sans, sans-serif" font-size="18" fill="#404040" textLength="10.01" lengthAdjust="spacingAndGlyphs">1</text>
<text x="256.15" y="1278.05" font-family="Liberation Sans, sans-serif" font-size="18" fill="#404040" textLength="70.95" lengthAdjust="spacingAndGlyphs">'BROWN'</text>
<text x="404.61" y="1278.05" font-family="Liberation Sans, sans-serif" font-size="18" fill="#404040" textLength="65.48" lengthAdjust="spacingAndGlyphs">'Female'</text>
<text x="621.08" y="1278.05" font-family="Liberation Sans, sans-serif" font-size="18" fill="#404040" textLength="20.02" lengthAdjust="spacingAndGlyphs">49</text>
<text x="735.57" y="1278.05" font-family="Liberation Sans, sans-serif" font-size="18" fill="#404040" textLength="30.03" lengthAdjust="spacingAndGlyphs">119</text>
<text x="879.69" y="1278.05" font-family="Liberation Sans, sans-serif" font-size="18" fill="#404040" textLength="10.01" lengthAdjust="spacingAndGlyphs">0</text>
<text x="1016.58" y="1278.05" font-family="Liberation Sans, sans-serif" font-size="18" fill="#404040" textLength="20.02" lengthAdjust="spacingAndGlyphs">14</text>
<text x="256.19" y="1311.10" font-family="Liberation Sans, sans-serif" font-size="18" fill="#404040" textLength="61.37" lengthAdjust="spacingAndGlyphs">'PERRY'</text>
<text x="404.61" y="1311.10" font-family="Liberation Sans, sans-serif" font-size="18" fill="#404040" textLength="65.48" lengthAdjust="spacingAndGlyphs">'Female'</text>
<text x="621.08" y="1311.10" font-family="Liberation Sans, sans-serif" font-size="18" fill="#404040" textLength="20.02" lengthAdjust="spacingAndGlyphs">29</text>
<text x="735.57" y="1311.10" font-family="Liberation Sans, sans-serif" font-size="18" fill="#404040" textLength="30.03" lengthAdjust="spacingAndGlyphs">120</text>
<text x="879.69" y="1311.10" font-family="Liberation Sans, sans-serif" font-size="18" fill="#404040" textLength="10.01" lengthAdjust="spacingAndGlyphs">0</text>
<text x="1026.59" y="1311.10" font-family="Liberation Sans, sans-serif" font-size="18" fill="#404040" textLength="10.01" lengthAdjust="spacingAndGlyphs">1</text>
<text x="256.16" y="1344.15" font-family="Liberation Sans, sans-serif" font-size="18" fill="#404040" textLength="107.17" lengthAdjust="spacingAndGlyphs">'PATTERSON'</text>
<text x="404.61" y="1344.15" font-family="Liberation Sans, sans-serif" font-size="18" fill="#404040" textLength="65.48" lengthAdjust="spacingAndGlyphs">'Female'</text>
<text x="621.08" y="1344.15" font-family="Liberation Sans, sans-serif" font-size="18" fill="#404040" textLength="20.02" lengthAdjust="spacingAndGlyphs">37</text>
<text x="735.57" y="1344.15" font-family="Liberation Sans, sans-serif" font-size="18" fill="#404040" textLength="30.03" lengthAdjust="spacingAndGlyphs">120</text>
<text x="879.69" y="1344.15" font-family="Liberation Sans, sans-serif" font-size="18" fill="#404040" textLength="10.01" lengthAdjust="spacingAndGlyphs">1</text>
<text x="1026.59" y="1344.15" font-family="Liberation Sans, sans-serif" font-size="18" fill="#404040" textLength="10.01" lengthAdjust="spacingAndGlyphs">1</text>
<text x="256.15" y="1377.20" font-family="Liberation Sans, sans-serif" font-size="18" fill="#404040" textLength="63.45" lengthAdjust="spacingAndGlyphs">'EVANS'</text>
<text x="404.61" y="1377.20" font-family="Liberation Sans, sans-serif" font-size="18" fill="#404040" textLength="65.48" lengthAdjust="spacingAndGlyphs">'Female'</text>
<text x="621.08" y="1377.20" font-family="Liberation Sans, sans-serif" font-size="18" fill="#404040" textLength="20.02" lengthAdjust="spacingAndGlyphs">39</text>
<text x="735.57" y="1377.20" font-family="Liberation Sans, sans-serif" font-size="18" fill="#404040" textLength="30.03" lengthAdjust="spacingAndGlyphs">121</text>
<text x="879.69" y="1377.20" font-family="Liberation Sans, sans-serif" font-size="18" fill="#404040" textLength="10.01" lengthAdjust="spacingAndGlyphs">0</text>
<text x="1016.58" y="1377.20" font-family="Liberation Sans, sans-serif" font-size="18" fill="#404040" textLength="20.02" lengthAdjust="spacingAndGlyphs">12</text>
</g>
</svg>
<span class="t para" style="left:121.500px;top:1470.500px;letter-spacing:.175px">Show correlation of hypertension with the desired field.</span>
<div class="codeblk" style="top:1513px;height:45px;border-radius:0"></div>
<span class="code" style="left:140.800px;top:1523.900px;letter-spacing:-.032px">scatter(patients.Systolic, patients.Diastolic, 50, patients.(field), <span class="str">'filled'</span>)</span>
<svg id="scat" width="800" height="340" viewBox="180 1580 800 340" style="left:180px;top:1580px">
<rect x="259.800" y="1621.600" width="1.800" height="300" fill="#3c3c3c"/>
<rect x="261" y="1621.60" width="5.100" height="1.600" fill="#3c3c3c"/>
<text x="209.60" y="1630.70" font-family="DejaVu Sans, Liberation Sans, sans-serif" font-size="20.400" fill="#404040" textLength="41.65" lengthAdjust="spacingAndGlyphs">100</text>
<rect x="261" y="1698.27" width="5.100" height="1.600" fill="#3c3c3c"/>
<text x="223.61" y="1707.37" font-family="DejaVu Sans, Liberation Sans, sans-serif" font-size="20.400" fill="#404040" textLength="28.12" lengthAdjust="spacingAndGlyphs">95</text>
<rect x="261" y="1774.93" width="5.100" height="1.600" fill="#3c3c3c"/>
<text x="223.63" y="1784.03" font-family="DejaVu Sans, Liberation Sans, sans-serif" font-size="20.400" fill="#404040" textLength="27.61" lengthAdjust="spacingAndGlyphs">90</text>
<rect x="261" y="1851.60" width="5.100" height="1.600" fill="#3c3c3c"/>
<text x="223.49" y="1860.69" font-family="DejaVu Sans, Liberation Sans, sans-serif" font-size="20.400" fill="#404040" textLength="28.25" lengthAdjust="spacingAndGlyphs">85</text>
<rect x="261" y="1928.26" width="5.100" height="1.600" fill="#3c3c3c"/>
<text x="223.52" y="1935.16" font-family="DejaVu Sans, Liberation Sans, sans-serif" font-size="20.400" fill="#404040" textLength="27.73" lengthAdjust="spacingAndGlyphs">80</text>
<circle cx="356.40" cy="1898.20" r="6.900" fill="#2d85f5"/>
<circle cx="414.74" cy="1913.10" r="6.900" fill="#4662f5"/>
<circle cx="434.18" cy="1806.80" r="6.900" fill="#2d85f5"/>
<circle cx="434.18" cy="1837.00" r="6.900" fill="#adc22b"/>
<circle cx="453.62" cy="1898.20" r="6.900" fill="#d1bf27"/>
<circle cx="473.07" cy="1882.60" r="6.900" fill="#1fbfad"/>
<circle cx="491.67" cy="1790.80" r="6.900" fill="#85cc55"/>
<circle cx="491.67" cy="1837.00" r="6.900" fill="#1aa7e0"/>
<circle cx="491.67" cy="1852.40" r="6.900" fill="#4340d8"/>
<circle cx="511.11" cy="1837.00" r="6.900" fill="#4268f5"/>
<circle cx="511.11" cy="1852.40" r="6.900" fill="#f9b83c"/>
<circle cx="530.55" cy="1913.10" r="6.900" fill="#d9b82a"/>
<circle cx="550.00" cy="1852.40" r="6.900" fill="#2a95ea"/>
<circle cx="550.00" cy="1882.60" r="6.900" fill="#48cb84"/>
<circle cx="550.00" cy="1913.10" r="6.900" fill="#f5d827"/>
<circle cx="569.44" cy="1745.50" r="6.900" fill="#fcd22e"/>
<circle cx="569.44" cy="1882.60" r="6.900" fill="#2d85f5"/>
<circle cx="588.89" cy="1760.60" r="6.900" fill="#4558f5"/>
<circle cx="588.89" cy="1913.10" r="6.900" fill="#4460f5"/>
<circle cx="608.34" cy="1822.00" r="6.900" fill="#2a95ea"/>
<circle cx="627.63" cy="1699.20" r="6.900" fill="#fdc52f"/>
<circle cx="627.63" cy="1730.40" r="6.900" fill="#a5c430"/>
<circle cx="627.63" cy="1745.50" r="6.900" fill="#fdb83c"/>
<circle cx="627.63" cy="1775.60" r="6.900" fill="#cfc02a"/>
<circle cx="627.63" cy="1867.20" r="6.900" fill="#b8c230"/>
<circle cx="705.41" cy="1639.20" r="6.900" fill="#72cc5f"/>
<circle cx="705.41" cy="1684.20" r="6.900" fill="#4648ee"/>
<circle cx="724.23" cy="1684.20" r="6.900" fill="#4648ee"/>
<circle cx="879.54" cy="1684.20" r="6.900" fill="#f5d42a"/>
<circle cx="724.23" cy="1699.20" r="6.900" fill="#6fcc62"/>
<circle cx="743.55" cy="1699.20" r="6.900" fill="#f9fb15"/>
<circle cx="860.22" cy="1730.40" r="6.900" fill="#7bcb58"/>
<circle cx="647.08" cy="1745.50" r="6.900" fill="#d9b82a"/>
<circle cx="705.41" cy="1745.50" r="6.900" fill="#3dc994"/>
<circle cx="743.55" cy="1745.50" r="6.900" fill="#d4bb2a"/>
<circle cx="821.33" cy="1745.50" r="6.900" fill="#4558f5"/>
<circle cx="840.77" cy="1745.50" r="6.900" fill="#4540e0"/>
<circle cx="743.55" cy="1760.60" r="6.900" fill="#2d85f8"/>
<circle cx="782.44" cy="1760.60" r="6.900" fill="#2d85f8"/>
<circle cx="705.41" cy="1775.60" r="6.900" fill="#1fa2e5"/>
<circle cx="860.22" cy="1775.60" r="6.900" fill="#fcce2e"/>
<circle cx="899.11" cy="1775.60" r="6.900" fill="#e9b830"/>
<circle cx="686.09" cy="1790.80" r="6.900" fill="#f5b83d"/>
<circle cx="724.23" cy="1790.80" r="6.900" fill="#f5b83d"/>
<circle cx="782.44" cy="1790.80" r="6.900" fill="#65cb6a"/>
<circle cx="743.55" cy="1806.80" r="6.900" fill="#2596ee"/>
<circle cx="647.08" cy="1852.40" r="6.900" fill="#4130c8"/>
<circle cx="686.09" cy="1867.20" r="6.900" fill="#fdb83c"/>
<circle cx="647.08" cy="1882.60" r="6.900" fill="#3d73fb"/>
<circle cx="686.09" cy="1882.60" r="6.900" fill="#2d85f8"/>
<circle cx="821.33" cy="1898.20" r="6.900" fill="#fdb83c"/>
<circle cx="899.11" cy="1898.20" r="6.900" fill="#65cb6a"/>
</svg>

</div>
</body>
</html>
